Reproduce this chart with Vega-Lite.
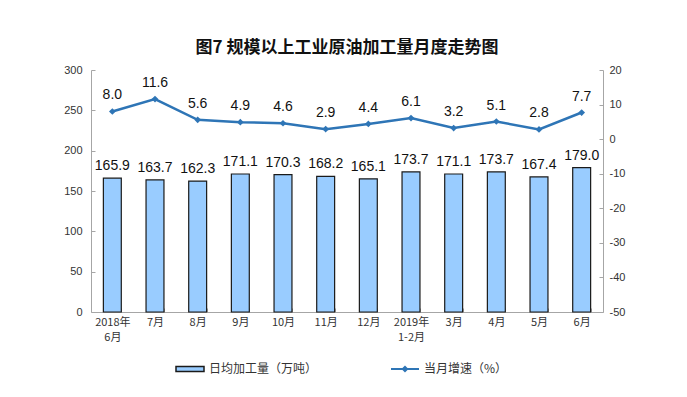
{
  "$schema": "https://vega.github.io/schema/vega-lite/v6.json",
  "width": 512,
  "height": 242,
  "autosize": "none",
  "padding": {"left": 91, "top": 70, "right": 84, "bottom": 85},
  "background": "white",
  "title": {
    "text": "图7  规模以上工业原油加工量月度走势图",
    "font": "Noto Sans CJK SC",
    "fontSize": 17,
    "fontWeight": "bold",
    "color": "#111",
    "anchor": "middle",
    "offset": 7
  },
  "data": {
    "values": [
      {"month": "2018年 6月", "output": 165.9, "growth": 8.0},
      {"month": "7月", "output": 163.7, "growth": 11.6},
      {"month": "8月", "output": 162.3, "growth": 5.6},
      {"month": "9月", "output": 171.1, "growth": 4.9},
      {"month": "10月", "output": 170.3, "growth": 4.6},
      {"month": "11月", "output": 168.2, "growth": 2.9},
      {"month": "12月", "output": 165.1, "growth": 4.4},
      {"month": "2019年 1-2月", "output": 173.7, "growth": 6.1},
      {"month": "3月", "output": 171.1, "growth": 3.2},
      {"month": "4月", "output": 173.7, "growth": 5.1},
      {"month": "5月", "output": 167.4, "growth": 2.8},
      {"month": "6月", "output": 179.0, "growth": 7.7}
    ]
  },
  "encoding": {
    "x": {
      "field": "month",
      "type": "nominal",
      "sort": null,
      "scale": {"paddingInner": 0.58, "paddingOuter": 0.29},
      "axis": {
        "title": null,
        "labelAngle": 0,
        "labelExpr": "split(datum.label, ' ')",
        "labelFont": "Noto Sans CJK SC",
        "labelFontSize": 11,
        "labelColor": "#333",
        "labelPadding": 8,
        "labelLineHeight": 15,
        "domainColor": "#a6a6a6",
        "tickColor": "#a6a6a6",
        "tickSize": -4,
        "tickBand": "extent"
      }
    }
  },
  "layer": [
    {
      "encoding": {
        "y": {
          "field": "output",
          "type": "quantitative",
          "scale": {"domain": [0, 300], "nice": false},
          "axis": {
            "title": null,
            "orient": "left",
            "values": [0, 50, 100, 150, 200, 250, 300],
            "grid": false,
            "labelFont": "Liberation Sans",
            "labelFontSize": 11,
            "labelColor": "#333",
            "labelPadding": 13,
            "domainColor": "#a6a6a6",
            "tickColor": "#a6a6a6",
            "tickSize": -4
          }
        }
      },
      "layer": [
        {
          "mark": {"type": "bar", "stroke": "#1a1a1a", "strokeWidth": 1.2},
          "encoding": {
            "fill": {
              "datum": "日均加工量（万吨）",
              "scale": {"range": ["#99ccff"]},
              "legend": {
                "title": null,
                "orient": "none",
                "legendX": 84,
                "legendY": 284,
                "symbolType": "M-1,-0.18H1V0.18H-1Z",
                "symbolSize": 784,
                "symbolStrokeColor": "#1a1a1a",
                "symbolStrokeWidth": 1.5,
                "labelFont": "Noto Sans CJK SC",
                "labelFontSize": 12,
                "labelColor": "#333",
                "labelOffset": 4
              }
            }
          }
        },
        {
          "mark": {"type": "text", "baseline": "bottom", "dy": -5, "font": "Liberation Sans", "fontSize": 14, "color": "#111"},
          "encoding": {
            "text": {"field": "output", "type": "quantitative", "format": ".1f"}
          }
        }
      ]
    },
    {
      "encoding": {
        "y": {
          "field": "growth",
          "type": "quantitative",
          "scale": {"domain": [-50, 20], "nice": false},
          "axis": {
            "title": null,
            "orient": "right",
            "values": [-50, -40, -30, -20, -10, 0, 10, 20],
            "labelExpr": "'' + datum.value",
            "grid": false,
            "labelFont": "Liberation Sans",
            "labelFontSize": 11,
            "labelColor": "#333",
            "labelPadding": 10,
            "domainColor": "#a6a6a6",
            "tickColor": "#a6a6a6",
            "tickSize": -4
          }
        }
      },
      "layer": [
        {
          "mark": {"type": "line", "strokeWidth": 2.5},
          "encoding": {
            "stroke": {
              "datum": "当月增速（%）",
              "scale": {"range": ["#2e75b6"]},
              "legend": {
                "title": null,
                "orient": "none",
                "legendX": 299,
                "legendY": 284,
                "symbolType": "M-1,0H1M-0.15,0L0,-0.15L0.15,0L0,0.15Z",
                "symbolSize": 784,
                "symbolStrokeWidth": 2,
                "symbolFillColor": "#2e75b6",
                "labelFont": "Noto Sans CJK SC",
                "labelFontSize": 12,
                "labelColor": "#333",
                "labelOffset": 4
              }
            }
          }
        },
        {
          "mark": {"type": "point", "shape": "diamond", "filled": true, "size": 45, "color": "#2e75b6", "opacity": 1}
        },
        {
          "mark": {"type": "text", "baseline": "bottom", "dy": -9, "font": "Liberation Sans", "fontSize": 14, "color": "#111"},
          "encoding": {
            "text": {"field": "growth", "type": "quantitative", "format": ".1f"}
          }
        }
      ]
    }
  ],
  "resolve": {"scale": {"y": "independent"}},
  "config": {"view": {"stroke": null}}
}
